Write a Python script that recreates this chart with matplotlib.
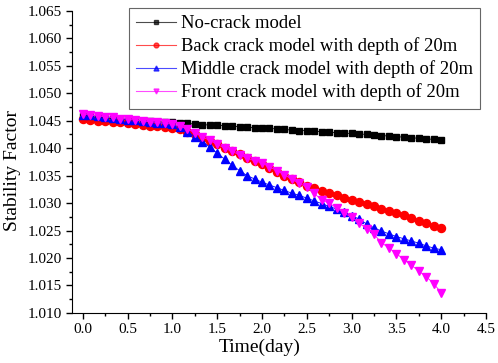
import matplotlib
matplotlib.use("Agg")
import matplotlib.pyplot as plt
from matplotlib.ticker import MultipleLocator, FormatStrFormatter

# Dados (passo de 2 h = 1/12 dia)
tempo = [i / 12 for i in range(49)]

sem_fissura = [1.0458, 1.0457, 1.0456, 1.0455, 1.0454, 1.0453, 1.0452, 1.0451, 1.0450,
               1.0449, 1.0448, 1.0447, 1.0447, 1.0446, 1.0445, 1.0444, 1.0443, 1.0442,
               1.0442, 1.0441, 1.0440, 1.0439, 1.0438, 1.0437, 1.0437, 1.0436, 1.0435,
               1.0434, 1.0433, 1.0432, 1.0432, 1.0431, 1.0430, 1.0429, 1.0428, 1.0427,
               1.0427, 1.0426, 1.0425, 1.0424, 1.0423, 1.0422, 1.0421, 1.0420, 1.0419,
               1.0418, 1.0417, 1.0416, 1.0414]

fissura_tras = [1.0453, 1.0452, 1.0450, 1.0449, 1.0448, 1.0447, 1.0445, 1.0444, 1.0443,
                1.0441, 1.0440, 1.0439, 1.0437, 1.0434, 1.0430, 1.0425, 1.0419, 1.0413,
                1.0407, 1.0401, 1.0395, 1.0389, 1.0383, 1.0377, 1.0371, 1.0364, 1.0357,
                1.0350, 1.0344, 1.0338, 1.0332, 1.0327, 1.0322, 1.0318, 1.0314, 1.0310,
                1.0306, 1.0302, 1.0298, 1.0294, 1.0290, 1.0286, 1.0282, 1.0278, 1.0273,
                1.0268, 1.0263, 1.0258, 1.0255]

fissura_meio = [1.0461, 1.0460, 1.0458, 1.0457, 1.0455, 1.0454, 1.0452, 1.0451, 1.0449,
                1.0448, 1.0446, 1.0445, 1.0444, 1.0438, 1.0430, 1.0421, 1.0412, 1.0402,
                1.0391, 1.0380, 1.0369, 1.0359, 1.0350, 1.0344, 1.0338, 1.0333, 1.0328,
                1.0323, 1.0318, 1.0314, 1.0309, 1.0304, 1.0299, 1.0294, 1.0289, 1.0283,
                1.0277, 1.0271, 1.0262, 1.0255, 1.0249, 1.0244, 1.0239, 1.0235, 1.0231,
                1.0227, 1.0222, 1.0218, 1.0215]

fissura_frente = [1.0462, 1.0460, 1.0459, 1.0457, 1.0456, 1.0454, 1.0453, 1.0451, 1.0450,
                  1.0448, 1.0447, 1.0445, 1.0444, 1.0440, 1.0435, 1.0428, 1.0421, 1.0414,
                  1.0407, 1.0400, 1.0394, 1.0388, 1.0382, 1.0377, 1.0373, 1.0366, 1.0359,
                  1.0352, 1.0343, 1.0336, 1.0329, 1.0318, 1.0305, 1.0300, 1.0291, 1.0282,
                  1.0274, 1.0264, 1.0253, 1.0243, 1.0228, 1.0218, 1.0208, 1.0197, 1.0187,
                  1.0176, 1.0166, 1.0153, 1.0137]

rotulos = ["No-crack model",
           "Back crack model with depth of 20m",
           "Middle crack model with depth of 20m",
           "Front crack model with depth of 20m"]

plt.rcParams['font.family'] = ['Liberation Serif', 'DejaVu Serif']

fig = plt.figure(figsize=(4.98, 3.63), dpi=100)
ax = fig.add_axes([0.1446, 0.138, 0.8314, 0.832])

ax.plot(tempo, sem_fissura, color='black', marker='s', ms=4.5, lw=0.6, label=rotulos[0])
ax.plot(tempo, fissura_tras, color='red', marker='o', ms=5.8, lw=0.6, label=rotulos[1])
ax.plot(tempo, fissura_meio, color='blue', marker='^', ms=6, lw=0.6, label=rotulos[2])
ax.plot(tempo, fissura_frente, color='magenta', marker='v', ms=6, lw=0.6, label=rotulos[3])

ax.set_xlim(-0.12, 4.5)
ax.set_ylim(1.010, 1.065)
ax.xaxis.set_major_locator(MultipleLocator(0.5))
ax.xaxis.set_minor_locator(MultipleLocator(0.25))
ax.yaxis.set_major_locator(MultipleLocator(0.005))
ax.yaxis.set_minor_locator(MultipleLocator(0.0025))
ax.xaxis.set_major_formatter(FormatStrFormatter('%.1f'))
ax.yaxis.set_major_formatter(FormatStrFormatter('%.3f'))
ax.tick_params(which='major', direction='out', length=4, width=1, labelsize=11)
ax.tick_params(which='minor', direction='out', length=2.5, width=1)

ax.spines['top'].set_visible(False)
ax.spines['right'].set_visible(False)

# Rótulos dos eixos (posição como no original)
ax.set_xlabel("Time(day)", fontsize=14)
ax.set_ylabel("Stability Factor", fontsize=14)
ax.xaxis.set_label_coords(0.452, -0.085)
ax.yaxis.set_label_coords(-0.123, 0.47)

leg = ax.legend(loc='upper right', bbox_to_anchor=(480 / 498, 1 - 8 / 363),
                bbox_transform=fig.transFigure, borderaxespad=0,
                fontsize=13.4, handlelength=2.1, handletextpad=0.27,
                labelspacing=0.27, borderpad=0.4, fancybox=False, frameon=True,
                markerscale=0.6)
leg.get_frame().set_edgecolor('#404040')
leg.get_frame().set_linewidth(0.8)
for linha in leg.get_lines():
    linha.set_linewidth(0.8)
    linha.set_alpha(0.7)

fig.savefig("out.png", dpi=100)
